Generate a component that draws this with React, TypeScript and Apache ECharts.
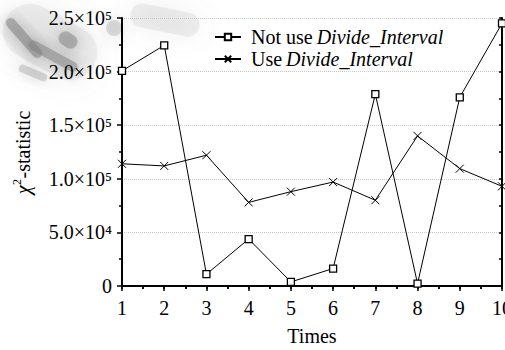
import React, { useEffect, useRef } from "react";
import * as echarts from "echarts";

const times = [1, 2, 3, 4, 5, 6, 7, 8, 9, 10];
const notUseDivide = [200700, 224500, 11000, 43800, 3800, 16300, 179000, 2200, 176000, 245000];
const useDivide = [114000, 112000, 122000, 78000, 88000, 97000, 80000, 140000, 109500, 93000];
const seriesNames = ["Not use Divide_Interval", "Use Divide_Interval"];
const legendPlain = ["Not use", "Use"];
const legendItalic = "Divide_Interval";
const yTickLabels: Record<number, string> = {
  0: "0",
  50000: "5.0×10⁴",
  100000: "1.0×10⁵",
  150000: "1.5×10⁵",
  200000: "2.0×10⁵",
  250000: "2.5×10⁵",
};

const FONT = "Liberation Serif";
const FS = 20;

function measure(text: string, font: string): number {
  const c = document.createElement("canvas").getContext("2d");
  if (!c) return text.length * 9;
  c.font = font;
  return c.measureText(text).width;
}

export default function App() {
  const ref = useRef<HTMLDivElement>(null);
  useEffect(() => {
    if (!ref.current) return;
    const chart = echarts.init(ref.current, null, { renderer: "svg" });
    const base = { fontFamily: FONT, color: "#000" };
    const normalFont = `${FS}px "${FONT}"`;
    const italicFont = `italic ${FS}px "${FONT}"`;

    // legend geometry
    const legLeft = 214;
    const legTop = 27;
    const itemW = 26;
    const lineH = 20;
    const gap = 2;
    const textX = legLeft + itemW + 5 + 5;
    const italicTexts = legendPlain.map((p, i) => ({
      type: "text",
      x: textX + measure(p + " ", normalFont),
      y: legTop + lineH / 2 + i * (lineH + gap),
      silent: true,
      style: {
        text: legendItalic,
        fontFamily: FONT,
        fontSize: FS,
        fontStyle: "italic",
        fill: "#000",
        verticalAlign: "middle",
        align: "left",
      },
    }));

    // y axis name: χ²-statistic, rotated
    const wChi = measure("χ", italicFont);
    const wSup = measure("2", `12px "${FONT}"`);
    const wRest = measure("-statistic", normalFont);
    const total = wChi + wSup + wRest;
    const x0 = -total / 2;
    const yName = {
      type: "group",
      x: 23,
      y: 153,
      rotation: Math.PI / 2,
      silent: true,
      children: [
        {
          type: "text",
          x: x0,
          y: 0,
          style: { text: "χ", fontFamily: FONT, fontSize: FS, fontStyle: "italic", fill: "#000", verticalAlign: "middle", align: "left" },
        },
        {
          type: "text",
          x: x0 + wChi + 0.5,
          y: -6,
          style: { text: "2", fontFamily: FONT, fontSize: 12, fill: "#000", verticalAlign: "middle", align: "left" },
        },
        {
          type: "text",
          x: x0 + wChi + wSup + 1,
          y: 0,
          style: { text: "-statistic", fontFamily: FONT, fontSize: FS, fill: "#000", verticalAlign: "middle", align: "left" },
        },
      ],
    };

    const blur = (x: number, y: number, w: number, h: number, rot: number, op: number, b = 16) => ({
      type: "rect",
      x,
      y,
      rotation: rot,
      z: -10,
      silent: true,
      shape: { x: -w / 2, y: -h / 2, width: w, height: h, r: h / 2 },
      style: { fill: "#808080", opacity: op, shadowBlur: b, shadowColor: "#808080" },
    });

    chart.setOption({
      animation: false,
      backgroundColor: "#fff",
      textStyle: { fontFamily: FONT, color: "#000" },
      graphic: [
        blur(50, 42, 100, 55, -0.5, 0.12, 30),
        blur(24, 38, 50, 10, -0.85, 0.55),
        blur(53, 56, 55, 10, -0.5, 0.5),
        blur(68, 40, 20, 14, -0.6, 0.5),
        blur(33, 73, 30, 8, -0.4, 0.3),
        blur(114, 28, 16, 16, 0, 0.25),
        blur(165, 20, 70, 24, -0.2, 0.12, 25),
        ...italicTexts,
        yName,
      ],
      grid: { left: 122, top: 18, right: 3, bottom: 64, outerBoundsMode: "none", containLabel: false },
      legend: {
        orient: "vertical",
        left: legLeft,
        top: legTop,
        padding: 0,
        itemWidth: itemW,
        itemHeight: 8,
        itemGap: gap,
        data: seriesNames,
        formatter: (name: string) => legendPlain[seriesNames.indexOf(name)] ?? name,
        textStyle: {
          ...base,
          fontSize: FS,
          lineHeight: lineH,
          padding: [0, 0, 0, 5],
        },
      },
      xAxis: [
        {
          type: "value",
          min: 1,
          max: 10,
          interval: 1,
          position: "bottom",
          axisLine: { lineStyle: { color: "#000", width: 2 } },
          axisTick: { length: 5, lineStyle: { color: "#000", width: 1.5 } },
          minorTick: { show: true, splitNumber: 2, length: 3, lineStyle: { color: "#000", width: 1.5 } },
          splitLine: { show: false },
          axisLabel: { ...base, fontSize: FS, margin: 12, hideOverlap: false },
          name: "Times",
          nameLocation: "middle",
          nameGap: 40,
          nameTextStyle: { ...base, fontSize: FS },
        },
        {
          type: "value",
          min: 1,
          max: 10,
          interval: 1,
          position: "top",
          axisLine: { lineStyle: { color: "#000", width: 2 } },
          axisTick: { inside: true, length: 3, lineStyle: { color: "#000", width: 1.5 } },
          minorTick: { show: true, splitNumber: 2, length: 3, lineStyle: { color: "#000", width: 1.5 } },
          splitLine: { show: false },
          axisLabel: { show: false },
        },
      ],
      yAxis: [
        {
          type: "value",
          min: 0,
          max: 250000,
          interval: 50000,
          position: "left",
          axisLine: { show: true, lineStyle: { color: "#000", width: 2 } },
          axisTick: { show: true, length: 5, lineStyle: { color: "#000", width: 1.5 } },
          minorTick: { show: true, splitNumber: 2, length: 3, lineStyle: { color: "#000", width: 1.5 } },
          splitLine: { show: true, lineStyle: { color: "#c8c8c8", type: "dotted", width: 1 } },
          axisLabel: {
            ...base,
            fontSize: FS,
            margin: 10,
            formatter: (v: number) => yTickLabels[v] ?? String(v),
          },
        },
        {
          type: "value",
          min: 0,
          max: 250000,
          interval: 50000,
          position: "right",
          axisLine: { show: true, lineStyle: { color: "#000", width: 2 } },
          axisTick: { show: true, inside: true, length: 3, lineStyle: { color: "#000", width: 1.5 } },
          minorTick: { show: true, splitNumber: 2, length: 3, lineStyle: { color: "#000", width: 1.5 } },
          splitLine: { show: false },
          axisLabel: { show: false },
        },
      ],
      series: [
        {
          name: seriesNames[0],
          type: "line",
          xAxisIndex: 0,
          yAxisIndex: 0,
          data: times.map((t, i) => [t, notUseDivide[i]]),
          symbol: "rect",
          symbolSize: 7,
          lineStyle: { color: "#000", width: 1 },
          itemStyle: { color: "#fff", borderColor: "#000", borderWidth: 1.3 },
          z: 3,
        },
        {
          name: seriesNames[1],
          type: "line",
          xAxisIndex: 0,
          yAxisIndex: 0,
          data: times.map((t, i) => [t, useDivide[i]]),
          symbol: "path://M0,0L10,10M10,0L0,10",
          symbolSize: 8,
          lineStyle: { color: "#000", width: 1 },
          itemStyle: { color: "#000", borderColor: "#000", borderWidth: 1 },
          z: 2,
        },
      ],
    });
    return () => chart.dispose();
  }, []);
  return <div ref={ref} style={{ position: "absolute", left: 0, top: 0, width: 505, height: 350 }} />;
}
